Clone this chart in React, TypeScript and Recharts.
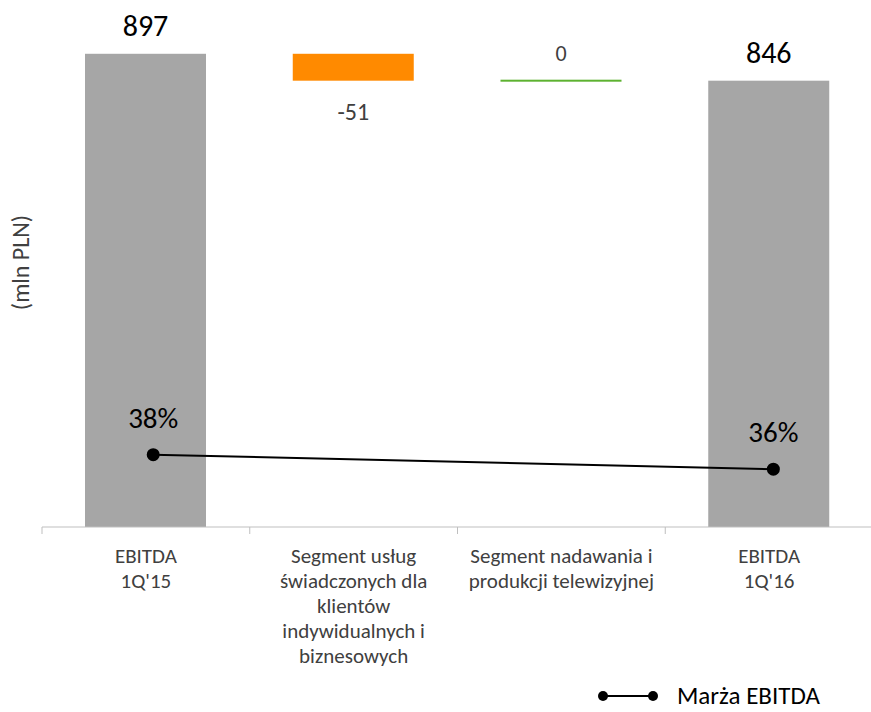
import { ComposedChart, Bar, Line, XAxis, YAxis, Cell, LabelList, Legend, Label } from 'recharts';

const FONT = "Carlito, Calibri, Lato, 'Open Sans', sans-serif";
const AXIS_GREY = '#BFBFBF';
const TEXT_GREY = '#404040';

const CHART_W = 880;
const CHART_H = 712;
const PLOT_LEFT = 42;
const PLOT_RIGHT = 7;
const BAND = (CHART_W - PLOT_LEFT - PLOT_RIGHT) / 4;

// waterfall steps (mln PLN) and EBITDA margin (%)
const categories = [
  "EBITDA\n1Q'15",
  'Segment usług\nświadczonych dla\nklientów\nindywidualnych i\nbiznesowych',
  'Segment nadawania i\nprodukcji telewizyjnej',
  "EBITDA\n1Q'16",
];
const steps = [897, -51, 0, 846];
const isTotal = [true, false, false, true];
const ebitdaMargin = [38, null, null, 36];
const barColors = ['#A6A6A6', '#FF8A00', '#5DB230', '#A6A6A6'];

let running = 0;
const data = categories.map((name, i) => {
  let range: [number, number];
  if (isTotal[i]) {
    range = [0, steps[i]];
    running = steps[i];
  } else {
    const next = running + steps[i];
    range = [Math.min(running, next), Math.max(running, next)];
    running = next;
  }
  return { name, idx: i, range, step: steps[i], total: isTotal[i], margin: ebitdaMargin[i] };
});

// zero-height steps still get a thin line
const StepShape = (props: any) => {
  const { x, y, width, height, fill } = props;
  const h = Math.max(height || 0, 2);
  return <rect x={x} y={height ? y : y - 1} width={width} height={h} fill={fill} />;
};

const renderBarLabel = (props: any) => {
  const { x, y, width, height, index } = props;
  const d = data[index];
  const cx = x + width / 2;
  if (d.total) {
    return (
      <text x={cx} y={y - 18} textAnchor="middle" fontSize={30} fill="#000">
        {d.step}
      </text>
    );
  }
  if (d.step < 0) {
    return (
      <text x={cx} y={y + height + 39} textAnchor="middle" fontSize={24} fill={TEXT_GREY}>
        {d.step}
      </text>
    );
  }
  return (
    <text x={cx} y={y - 20} textAnchor="middle" fontSize={22} fill={TEXT_GREY}>
      {d.step}
    </text>
  );
};

const renderMarginLabel = (props: any) => {
  const { x, y, value } = props;
  if (value == null) return null;
  return (
    <text x={x} y={y - 27} textAnchor="middle" fontSize={29} fill="#000">
      {value}%
    </text>
  );
};

const renderUnitLabel = (props: any) => {
  const { viewBox } = props;
  const cx = viewBox.x + viewBox.width / 2 - 1;
  const cy = viewBox.y + viewBox.height / 2 - 6;
  return (
    <text
      transform={`translate(${cx}, ${cy}) rotate(-90)`}
      textAnchor="middle"
      dominantBaseline="central"
      fontSize={24}
      fill={TEXT_GREY}
    >
      (mln PLN)
    </text>
  );
};

const CategoryTick = (props: any) => {
  const { x, y, payload } = props;
  const lines = String(payload.value).split('\n');
  const edge = x - BAND / 2;
  return (
    <g>
      <line x1={edge} x2={edge} y1={y} y2={y + 7} stroke={AXIS_GREY} />
      <text x={x} y={y + 36} textAnchor="middle" fontSize={21} fill={TEXT_GREY}>
        {lines.map((l, i) => (
          <tspan key={i} x={x} dy={i === 0 ? 0 : 25}>
            {l}
          </tspan>
        ))}
      </text>
    </g>
  );
};

const MarginLegend = () => (
  <svg width={260} height={32} style={{ overflow: 'visible' }}>
    <line x1={8} y1={17} x2={58} y2={17} stroke="#000" strokeWidth={2} />
    <circle cx={8} cy={17} r={5} fill="#000" />
    <circle cx={58} cy={17} r={5} fill="#000" />
    <text x={82} y={25} fontSize={25} fill="#000">
      Marża EBITDA
    </text>
  </svg>
);

export default function App() {
  return (
    <div
      style={{
        position: 'absolute',
        left: 0,
        top: 0,
        width: 871,
        height: 712,
        overflow: 'hidden',
        background: '#fff',
        fontFamily: FONT,
      }}
    >
      <ComposedChart
        width={CHART_W}
        height={CHART_H}
        data={data}
        margin={{ top: 10, right: PLOT_RIGHT, bottom: 0, left: 0 }}
      >
        <XAxis
          xAxisId="cat"
          dataKey="name"
          interval={0}
          height={185}
          tickSize={0}
          tickMargin={0}
          tickLine={false}
          axisLine={{ stroke: AXIS_GREY }}
          tick={<CategoryTick />}
        />
        <XAxis xAxisId="pos" type="number" dataKey="idx" domain={[-0.538, 3.482]} hide />
        <YAxis
          yAxisId="value"
          width={PLOT_LEFT}
          domain={[0, 980]}
          axisLine={false}
          tickLine={false}
          tick={false}
        >
          <Label content={renderUnitLabel} />
        </YAxis>
        <YAxis yAxisId="pct" orientation="right" domain={[28, 99.5]} hide />
        <Legend
          layout="horizontal"
          verticalAlign="middle"
          align="center"
          content={<MarginLegend />}
          wrapperStyle={{ position: 'absolute', left: 595, top: 679, width: 260 }}
        />
        <Bar
          xAxisId="cat"
          yAxisId="value"
          dataKey="range"
          barSize={121}
          shape={<StepShape />}
          isAnimationActive={false}
        >
          {data.map((d, i) => (
            <Cell key={d.name} fill={barColors[i]} />
          ))}
          <LabelList dataKey="range" content={renderBarLabel} />
        </Bar>
        <Line
          xAxisId="pos"
          yAxisId="pct"
          dataKey="margin"
          connectNulls
          stroke="#000"
          strokeWidth={2}
          dot={{ r: 5.5, fill: '#000', stroke: '#000' }}
          isAnimationActive={false}
          legendType="none"
        >
          <LabelList dataKey="margin" content={renderMarginLabel} />
        </Line>
      </ComposedChart>
    </div>
  );
}
